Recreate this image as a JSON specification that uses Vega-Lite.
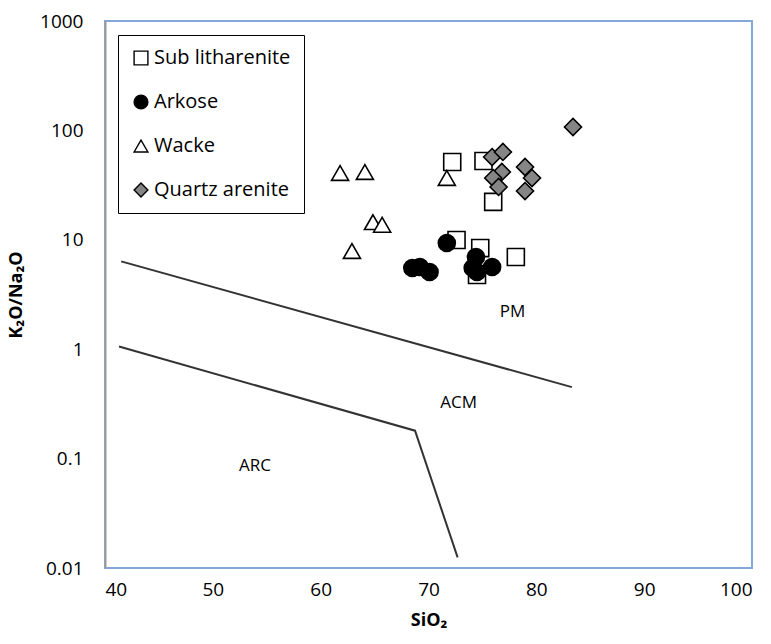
{
  "$schema": "https://vega.github.io/schema/vega-lite/v6.json",
  "width": 647,
  "height": 547,
  "autosize": "none",
  "padding": {"left": 105, "top": 21, "right": 19, "bottom": 76},
  "background": "white",
  "config": {
    "font": "Open Sans",
    "view": {"stroke": "#86A8D8", "strokeWidth": 2},
    "axis": {"grid": false, "ticks": false, "labelFont": "Open Sans", "labelFontSize": 19, "labelColor": "#000", "titleFont": "Open Sans", "titleFontSize": 18, "titleFontWeight": "bold", "titleColor": "#000"}
  },
  "datasets": {
    "pts": [
      {"SiO2": 72.2, "ratio": 51.4, "type": "Sub litharenite"},
      {"SiO2": 75.1, "ratio": 52.5, "type": "Sub litharenite"},
      {"SiO2": 76.0, "ratio": 22.2, "type": "Sub litharenite"},
      {"SiO2": 72.6, "ratio": 9.96, "type": "Sub litharenite"},
      {"SiO2": 74.8, "ratio": 8.4, "type": "Sub litharenite"},
      {"SiO2": 74.5, "ratio": 4.77, "type": "Sub litharenite"},
      {"SiO2": 78.1, "ratio": 6.96, "type": "Sub litharenite"},
      {"SiO2": 61.8, "ratio": 40.8, "type": "Wacke"},
      {"SiO2": 64.1, "ratio": 41.7, "type": "Wacke"},
      {"SiO2": 64.85, "ratio": 14.5, "type": "Wacke"},
      {"SiO2": 65.7, "ratio": 13.7, "type": "Wacke"},
      {"SiO2": 62.9, "ratio": 7.9, "type": "Wacke"},
      {"SiO2": 71.7, "ratio": 36.7, "type": "Wacke"},
      {"SiO2": 68.5, "ratio": 5.52, "type": "Arkose"},
      {"SiO2": 69.2, "ratio": 5.64, "type": "Arkose"},
      {"SiO2": 70.1, "ratio": 5.08, "type": "Arkose"},
      {"SiO2": 71.7, "ratio": 9.35, "type": "Arkose"},
      {"SiO2": 74.4, "ratio": 6.96, "type": "Arkose"},
      {"SiO2": 74.1, "ratio": 5.52, "type": "Arkose"},
      {"SiO2": 74.5, "ratio": 5.08, "type": "Arkose"},
      {"SiO2": 75.9, "ratio": 5.64, "type": "Arkose"},
      {"SiO2": 75.9, "ratio": 57.1, "type": "Quartz arenite"},
      {"SiO2": 76.9, "ratio": 63.5, "type": "Quartz arenite"},
      {"SiO2": 76.8, "ratio": 41.7, "type": "Quartz arenite"},
      {"SiO2": 76.0, "ratio": 36.7, "type": "Quartz arenite"},
      {"SiO2": 76.5, "ratio": 30.4, "type": "Quartz arenite"},
      {"SiO2": 78.95, "ratio": 46.3, "type": "Quartz arenite"},
      {"SiO2": 79.6, "ratio": 36.7, "type": "Quartz arenite"},
      {"SiO2": 78.95, "ratio": 27.9, "type": "Quartz arenite"},
      {"SiO2": 83.4, "ratio": 107.4, "type": "Quartz arenite"}
    ],
    "lines": [
      {"SiO2": 41.5, "ratio": 6.35, "seg": "upper", "ord": 1},
      {"SiO2": 83.3, "ratio": 0.45, "seg": "upper", "ord": 2},
      {"SiO2": 41.3, "ratio": 1.06, "seg": "lower", "ord": 1},
      {"SiO2": 68.75, "ratio": 0.18, "seg": "lower", "ord": 2},
      {"SiO2": 72.7, "ratio": 0.0125, "seg": "lower", "ord": 3}
    ],
    "labels": [
      {"SiO2": 77.8, "ratio": 2.2, "text": "PM"},
      {"SiO2": 72.8, "ratio": 0.32, "text": "ACM"},
      {"SiO2": 53.9, "ratio": 0.085, "text": "ARC"}
    ]
  },
  "layer": [
    {
      "data": {"name": "lines"},
      "mark": {"type": "line", "color": "#333333", "strokeWidth": 2},
      "encoding": {
        "x": {"field": "SiO2", "type": "quantitative", "scale": {"domain": [40, 100], "nice": false, "zero": false}, "axis": {"values": [40, 50, 60, 70, 80, 90, 100], "domain": false, "labelPadding": 12, "title": "SiO₂", "titlePadding": 12}},
        "y": {"field": "ratio", "type": "quantitative", "scale": {"type": "log", "domain": [0.01, 1000], "nice": false}, "axis": {"values": [0.01, 0.1, 1, 10, 100, 1000], "format": "~g", "domainColor": "#999999", "domainWidth": 2, "labelPadding": 22, "title": "K₂O/Na₂O", "titlePadding": 14}},
        "detail": {"field": "seg"},
        "order": {"field": "ord"}
      }
    },
    {
      "data": {"name": "labels"},
      "mark": {"type": "text", "fontSize": 17, "font": "Open Sans", "color": "#000"},
      "encoding": {
        "x": {"field": "SiO2", "type": "quantitative"},
        "y": {"field": "ratio", "type": "quantitative"},
        "text": {"field": "text"}
      }
    },
    {
      "data": {"name": "pts"},
      "mark": {"type": "point", "filled": true, "stroke": "#000", "strokeWidth": 1.6, "opacity": 1, "size": 290},
      "encoding": {
        "x": {"field": "SiO2", "type": "quantitative"},
        "y": {"field": "ratio", "type": "quantitative"},
        "shape": {"field": "type", "type": "nominal", "title": null,
          "scale": {"domain": ["Sub litharenite", "Arkose", "Wacke", "Quartz arenite"], "range": ["square", "circle", "triangle-up", "diamond"]},
          "legend": {"orient": "none", "legendX": 13, "legendY": 14, "strokeColor": "#000", "padding": 13, "labelFontSize": 20, "labelFont": "Open Sans", "labelColor": "#000", "symbolSize": 190, "symbolStrokeWidth": 1.4, "rowPadding": 24, "labelOffset": 3, "fillColor": "white"}},
        "fill": {"field": "type", "type": "nominal", "title": null,
          "scale": {"domain": ["Sub litharenite", "Arkose", "Wacke", "Quartz arenite"], "range": ["#ffffff", "#000000", "#ffffff", "#858585"]}}
      }
    }
  ]
}
